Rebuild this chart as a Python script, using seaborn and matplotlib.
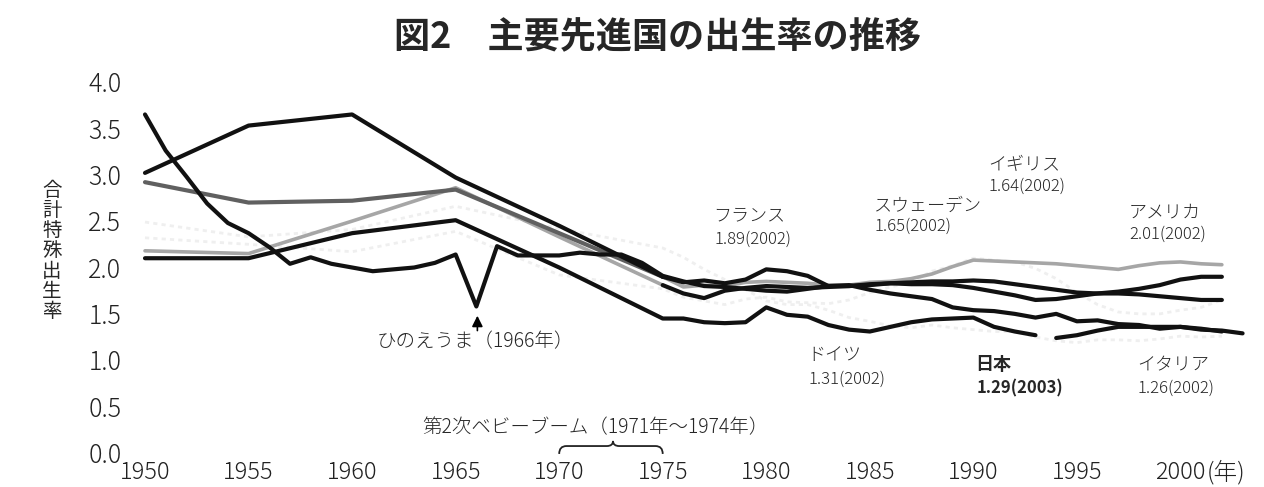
import matplotlib
matplotlib.use('Agg')
import matplotlib.pyplot as plt
from matplotlib.path import Path
from matplotlib.patches import PathPatch
import pandas as pd
import seaborn as sns

# values (total fertility rate)
japan_years = list(range(1950, 2004))
japan_tfr = [3.65, 3.26, 2.98, 2.69, 2.48, 2.37, 2.22, 2.04, 2.11, 2.04,
             2.00, 1.96, 1.98, 2.00, 2.05, 2.14, 1.58, 2.23, 2.13, 2.13,
             2.13, 2.16, 2.14, 2.14, 2.05, 1.91, 1.85, 1.80, 1.79, 1.77,
             1.75, 1.74, 1.77, 1.80, 1.81, 1.76, 1.72, 1.69, 1.66, 1.57,
             1.54, 1.53, 1.50, 1.46, 1.50, 1.42, 1.43, 1.39, 1.38, 1.34,
             1.36, 1.33, 1.32, 1.29]

west_years = [1950, 1955, 1960, 1965, 1970] + list(range(1975, 2003))
us_tfr = [3.02, 3.53, 3.65, 2.97, 2.45,
          1.90, 1.79, 1.81, 1.80, 1.84, 1.85, 1.84, 1.83, 1.81, 1.81,
          1.84, 1.85, 1.88, 1.93, 2.01, 2.08, 2.07, 2.06, 2.05, 2.04,
          2.02, 2.00, 1.98, 2.02, 2.05, 2.06, 2.04, 2.03]
france_tfr = [2.92, 2.70, 2.72, 2.84, 2.37,
              1.90, 1.84, 1.86, 1.83, 1.87, 1.98, 1.96, 1.91, 1.80, 1.80,
              1.81, 1.83, 1.82, 1.82, 1.81, 1.78, 1.74, 1.70, 1.65, 1.66,
              1.69, 1.72, 1.74, 1.77, 1.81, 1.87, 1.90, 1.90]
uk_tfr = [2.18, 2.15, 2.50, 2.86, 2.33,
          1.81, 1.72, 1.67, 1.75, 1.78, 1.80, 1.79, 1.78, 1.79, 1.80,
          1.82, 1.83, 1.84, 1.85, 1.85, 1.86, 1.85, 1.82, 1.79, 1.76,
          1.73, 1.72, 1.72, 1.71, 1.69, 1.67, 1.65, 1.65]
germany_tfr = [2.10, 2.10, 2.37, 2.51, 2.00,
               1.45, 1.45, 1.41, 1.40, 1.41, 1.57, 1.49, 1.47, 1.38, 1.33,
               1.31, 1.36, 1.41, 1.44, 1.45, 1.46, 1.36, 1.31, 1.27, 1.24,
               1.27, 1.32, 1.36, 1.36, 1.36, 1.36, 1.34, 1.31]
sweden_tfr = [2.32, 2.25, 2.17, 2.39, 1.92,
              1.77, 1.68, 1.64, 1.60, 1.66, 1.68, 1.63, 1.62, 1.61, 1.65,
              1.73, 1.79, 1.84, 1.96, 2.02, 2.10, 2.08, 2.06, 1.99, 1.88,
              1.73, 1.60, 1.52, 1.50, 1.50, 1.54, 1.57, 1.65]
italy_tfr = [2.49, 2.33, 2.41, 2.66, 2.42,
             2.21, 2.11, 1.98, 1.87, 1.76, 1.64, 1.60, 1.60, 1.54, 1.46,
             1.42, 1.37, 1.35, 1.38, 1.35, 1.33, 1.31, 1.31, 1.25, 1.21,
             1.19, 1.22, 1.22, 1.21, 1.23, 1.26, 1.25, 1.26]

frames = [pd.DataFrame({'country': '日本', 'year': japan_years, 'tfr': japan_tfr})]
for name, vals in [('アメリカ', us_tfr), ('フランス', france_tfr), ('イギリス', uk_tfr),
                   ('ドイツ', germany_tfr), ('スウェーデン', sweden_tfr), ('イタリア', italy_tfr)]:
    frames.append(pd.DataFrame({'country': name, 'year': west_years, 'tfr': vals}))
df = pd.concat(frames, ignore_index=True)

# labels: name, value text, x (year), y of name, y of value
labels = [
    ('フランス', '1.89(2002)', 1977.45, 2.56, 2.30),
    ('スウェーデン', '1.65(2002)', 1985.2, 2.67, 2.44),
    ('イギリス', '1.64(2002)', 1990.7, 3.10, 2.87),
    ('アメリカ', '2.01(2002)', 1997.5, 2.59, 2.36),
    ('ドイツ', '1.31(2002)', 1982.0, 1.06, 0.79),
    ('日本', '1.29(2003)', 1990.1, 0.95, 0.70),
    ('イタリア', '1.26(2002)', 1997.9, 0.94, 0.70),
]

# how the scan shows each stretch of line
styles = {
    'black': dict(color='#111111', lw=3.0, ls='-'),
    'dark': dict(color='#606060', lw=3.0, ls='-'),
    'light': dict(color='#a6a6a6', lw=2.6, ls='-'),
    'faint': dict(color='#efefef', lw=2.0, ls=(0, (1.5, 1.5))),
}
segments = [
    ('スウェーデン', 1950, 2002, 'faint'), ('イタリア', 1950, 2002, 'faint'),
    ('アメリカ', 1975, 2002, 'light'), ('イギリス', 1950, 1975, 'light'),
    ('フランス', 1950, 1975, 'dark'),
    ('日本', 1950, 2003, 'black'),
    ('アメリカ', 1950, 1975, 'black'),
    ('フランス', 1975, 2002, 'black'),
    ('イギリス', 1975, 2002, 'black'),
    ('ドイツ', 1950, 1993, 'black'), ('ドイツ', 1994, 2002, 'black'),
]

sns.set_style('white')
plt.rcParams['font.family'] = ['Noto Sans CJK JP', 'DejaVu Sans']

fig = plt.figure(figsize=(12.64, 4.87), dpi=100)
ax = fig.add_axes([145 / 1264, 34 / 487, 1110 / 1264, 371 / 487])

for country, y0, y1, st in segments:
    sub = df[(df.country == country) & (df.year >= y0) & (df.year <= y1)]
    s = styles[st]
    sns.lineplot(data=sub, x='year', y='tfr', ax=ax, color=s['color'], lw=s['lw'],
                 linestyle=s['ls'], estimator=None, sort=True, clip_on=False,
                 solid_joinstyle='round', solid_capstyle='round')

ax.set_xlim(1950, 2003.6)
ax.set_ylim(0, 4.0)
for sp in ax.spines.values():
    sp.set_visible(False)
ax.set_xlabel('')
ax.set_ylabel('')
ax.set_xticks(range(1950, 2001, 5))
ax.set_xticklabels([str(y) for y in range(1950, 2001, 5)], fontweight='light')
ax.set_yticks([0, 0.5, 1.0, 1.5, 2.0, 2.5, 3.0, 3.5, 4.0])
ax.set_yticklabels(['0.0', '0.5', '1.0', '1.5', '2.0', '2.5', '3.0', '3.5', '4.0'],
                   fontweight='light')
ax.tick_params(axis='x', length=0, pad=5, labelsize=17, colors='#222222')
ax.tick_params(axis='y', length=0, pad=17, labelsize=18, colors='#222222')
ax.annotate('(年)', xy=(2000, 0), xycoords=ax.get_xaxis_transform(),
            xytext=(19, -5), textcoords='offset points', ha='left', va='top',
            fontsize=17, color='#222222', fontweight='light')

for name, val, x, yn, yv in labels:
    w = 'bold' if name == '日本' else 'light'
    ax.text(x, yn, name, fontsize=13, ha='left', va='center', fontweight=w)
    ax.text(x + 0.05, yv, val, fontsize=12, ha='left', va='center', fontweight=w)

# hinoeuma arrow
ax.annotate('', xy=(1966.05, 1.51), xytext=(1966.05, 1.29),
            arrowprops=dict(arrowstyle='-|>', color='black', lw=1.2, mutation_scale=16))
ax.text(1965.95, 1.20, 'ひのえうま（1966年）', fontsize=14, ha='center', va='center',
        fontweight='light')

# second baby boom brace
ax.text(1971.75, 0.27, '第2次ベビーブーム（1971年～1974年）', fontsize=14, ha='center',
        va='center', fontweight='light')
x0, x1, xm = 1970.0, 1975.0, 1972.6
yb, yl, yt = -0.01, 0.075, 0.13
verts = [(x0, yb), (x0, yl), (x0 + 0.35, yl), (xm - 0.3, yl), (xm, yl), (xm, yt),
         (xm, yl), (xm + 0.3, yl), (x1 - 0.35, yl), (x1, yl), (x1, yb)]
codes = [Path.MOVETO, Path.CURVE3, Path.CURVE3, Path.LINETO, Path.CURVE3, Path.CURVE3,
         Path.CURVE3, Path.CURVE3, Path.LINETO, Path.CURVE3, Path.CURVE3]
ax.add_patch(PathPatch(Path(verts, codes), fill=False, lw=1.3, color='#222222', clip_on=False))

fig.text(657 / 1264, 1 - 38 / 487, '図2　主要先進国の出生率の推移', fontsize=26,
         fontweight='bold', ha='center', va='center')
fig.text(52 / 1264, 1 - 251 / 487, '合\n計\n特\n殊\n出\n生\n率', fontsize=14,
         ha='center', va='center', linespacing=0.95)

fig.savefig('out.png', dpi=100)
